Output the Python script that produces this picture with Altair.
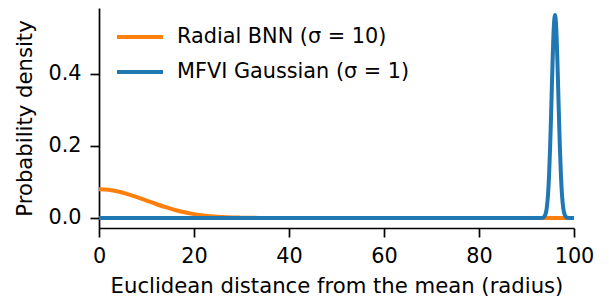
import altair as alt
import pandas as pd

# Radial BNN (sigma = 10): density
radial_x = [0, 2, 4, 6, 8, 10, 12, 14, 16, 18, 20, 22, 24, 26, 28, 30, 34, 40, 100]
radial_y = [0.0798, 0.0782, 0.0736, 0.0665, 0.0579, 0.0484, 0.0389, 0.0300, 0.0222,
            0.0158, 0.0108, 0.0071, 0.0045, 0.0027, 0.0016, 0.0009, 0.0002, 0.0, 0.0]

# MFVI Gaussian (sigma = 1): sharp peak near radius 96
mfvi_x = [0, 92, 93, 93.5, 94, 94.25, 94.5, 94.75, 95, 95.25, 95.5, 95.75, 96,
          96.25, 96.5, 96.75, 97, 97.25, 97.5, 97.75, 98, 98.5, 99, 100]
mfvi_y = [0.0, 0.0, 0.0, 0.0011, 0.0103, 0.0264, 0.0595, 0.118, 0.207, 0.321, 0.439,
          0.530, 0.564, 0.530, 0.439, 0.321, 0.207, 0.118, 0.0595, 0.0264, 0.0103,
          0.0011, 0.0, 0.0]

series_names = ["Radial BNN (σ = 10)", "MFVI Gaussian (σ = 1)"]
series_colors = ["#ff7f0e", "#1f77b4"]
x_ticks = [0, 20, 40, 60, 80, 100]
y_ticks = [0.0, 0.2, 0.4]

df_r = pd.DataFrame({"r": radial_x, "d": radial_y, "s": series_names[0]})
df_m = pd.DataFrame({"r": mfvi_x, "d": mfvi_y, "s": series_names[1]})

FONT = "DejaVu Sans"
FS = 20.8

x_enc = alt.X("r:Q", scale=alt.Scale(domain=[0, 100], nice=False, zero=False),
              axis=alt.Axis(values=x_ticks, title="Euclidean distance from the mean (radius)",
                            format="d", labelFlush=False))
y_enc = alt.Y("d:Q", scale=alt.Scale(domain=[-0.0278, 0.5833], nice=False, zero=False),
              axis=alt.Axis(values=y_ticks, title="Probability density", format=".1f"))
color_enc = alt.Color("s:N", scale=alt.Scale(domain=series_names, range=series_colors),
                      legend=alt.Legend(title=None, orient="none", legendX=16, legendY=4,
                                        symbolType="stroke", symbolSize=2116,
                                        symbolStrokeWidth=4, labelFontSize=FS, labelFont=FONT,
                                        labelColor="black", rowPadding=0, labelOffset=12,
                                        labelLimit=400))

line_r = alt.Chart(df_r).mark_line(strokeWidth=4, interpolate="monotone", clip=True).encode(
    x=x_enc, y=y_enc, color=color_enc)
line_m = alt.Chart(df_m).mark_line(strokeWidth=4, interpolate="monotone", clip=True).encode(
    x=x_enc, y=y_enc, color=color_enc)

chart = alt.layer(line_r, line_m).properties(
    width=475, height=220,
    autosize=alt.AutoSizeParams(type="none"),
    padding={"left": 91, "top": 0, "right": 27, "bottom": 72},
).configure_view(stroke=None).configure_axis(
    grid=False, domainColor="black", domainWidth=1.7, tickColor="black", tickWidth=1.7,
    tickSize=9, labelFont=FONT, labelFontSize=FS, labelColor="black", labelPadding=9,
    titleFont=FONT, titleFontSize=21.2, titleFontWeight="normal", titleColor="black",
).configure_axisX(titlePadding=10).configure_axisY(titlePadding=12)

chart.save("out.html", embed_options={"renderer": "svg", "actions": False})
